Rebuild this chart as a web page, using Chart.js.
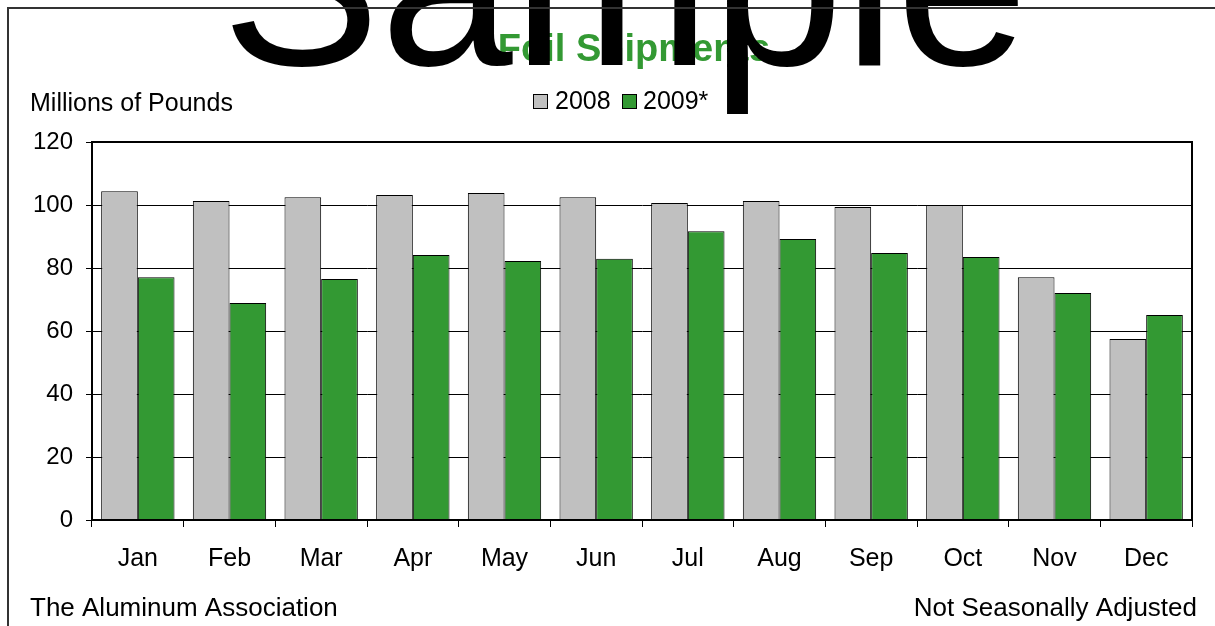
<!DOCTYPE html>
<html>
<head>
<meta charset="utf-8">
<script src="https://cdn.jsdelivr.net/npm/chart.js@4/dist/chart.umd.min.js"></script>
<style>
  html, body { margin: 0; padding: 0; background: #fff; }
  #wrap { width: 1215px; height: 626px; position: relative; }
</style>
</head>
<body>
<div id="wrap"><canvas id="foilChart" width="1215" height="626"></canvas></div>
<script>
// Data
const months = ['Jan', 'Feb', 'Mar', 'Apr', 'May', 'Jun', 'Jul', 'Aug', 'Sep', 'Oct', 'Nov', 'Dec'];
const ship2008 = [104.4, 101.3, 102.5, 103.2, 103.8, 102.5, 100.6, 101.3, 99.4, 100.0, 77.1, 57.5];
const ship2009 = [77.1, 68.9, 76.5, 84.1, 82.2, 82.9, 91.7, 89.2, 84.8, 83.5, 72.1, 65.1];
const yTicks = [0, 20, 40, 60, 80, 100, 120];

const FONT = '"Liberation Sans", Arial, sans-serif';
const GREEN = '#339933';
const GREY = '#C0C0C0';

// Plugin untuk teks tambahan, bingkai dan watermark
const extras = {
    id: 'extras',
    afterDraw(chart) {
        const c = chart.ctx;
        const a = chart.chartArea;
        c.save();

        // bingkai area plot
        c.strokeStyle = '#000';
        c.lineWidth = 2;
        c.strokeRect(a.left, a.top, a.right - a.left, a.bottom - a.top);

        // judul
        c.fillStyle = GREEN;
        c.font = 'bold 38px ' + FONT;
        c.textAlign = 'center';
        c.textBaseline = 'alphabetic';
        c.fillText('Foil Shipments', 634, 61);

        // label sumbu dan catatan kaki
        c.fillStyle = '#000';
        c.font = '25px ' + FONT;
        c.textAlign = 'left';
        c.fillText('Millions of Pounds', 30, 111);
        c.font = '26px ' + FONT;
        c.fillText('The Aluminum Association', 30, 616);
        c.textAlign = 'right';
        c.fillText('Not Seasonally Adjusted', 1197, 616);

        // legenda
        c.font = '25px ' + FONT;
        c.textAlign = 'left';
        c.lineWidth = 1;
        c.strokeStyle = '#000';
        c.fillStyle = GREY;
        c.fillRect(533.5, 94.5, 14, 14);
        c.strokeRect(533.5, 94.5, 14, 14);
        c.fillStyle = '#000';
        c.fillText('2008', 555, 109);
        c.fillStyle = GREEN;
        c.fillRect(622.5, 94.5, 14, 14);
        c.strokeRect(622.5, 94.5, 14, 14);
        c.fillStyle = '#000';
        c.fillText('2009*', 643, 109);

        // watermark
        c.font = '238px ' + FONT;
        c.textAlign = 'center';
        c.fillStyle = '#000';
        c.fillText('Sample', 625, 65);

        // bingkai luar
        c.strokeStyle = '#333';
        c.lineWidth = 2;
        c.beginPath();
        c.moveTo(8, 626);
        c.lineTo(8, 8);
        c.lineTo(1215, 8);
        c.stroke();

        c.restore();
    }
};

const ctx = document.getElementById('foilChart').getContext('2d');
const foilChart = new Chart(ctx, {
    type: 'bar',
    data: {
        labels: months,
        datasets: [
            {
                label: '2008',
                data: ship2008,
                backgroundColor: GREY,
                borderColor: '#000',
                borderWidth: 1,
                categoryPercentage: 0.8,
                barPercentage: 1.0
            },
            {
                label: '2009*',
                data: ship2009,
                backgroundColor: GREEN,
                borderColor: '#000',
                borderWidth: 1,
                categoryPercentage: 0.8,
                barPercentage: 1.0
            }
        ]
    },
    options: {
        responsive: false,
        animation: false,
        devicePixelRatio: 1,
        layout: { padding: { left: 0, top: 142, right: 23, bottom: 0 } },
        plugins: {
            legend: { display: false },
            title: { display: false },
            tooltip: { enabled: false }
        },
        scales: {
            x: {
                offset: true,
                grid: {
                    offset: true,
                    drawOnChartArea: false,
                    drawTicks: true,
                    tickLength: 7,
                    color: '#000'
                },
                border: { color: '#000', width: 2 },
                ticks: {
                    color: '#000',
                    font: { family: FONT, size: 25 },
                    padding: 17,
                    maxRotation: 0
                },
                afterFit(scale) { scale.height = 106; }
            },
            y: {
                min: 0,
                max: 120,
                afterBuildTicks(scale) {
                    scale.ticks = yTicks.map(v => ({ value: v }));
                },
                grid: {
                    color: '#000',
                    lineWidth: 1,
                    tickLength: 6
                },
                border: { color: '#000', width: 2 },
                ticks: {
                    color: '#000',
                    font: { family: FONT, size: 24 },
                    padding: 13
                },
                afterFit(scale) { scale.width = 92; }
            }
        }
    },
    plugins: [extras]
});
</script>
</body>
</html>
